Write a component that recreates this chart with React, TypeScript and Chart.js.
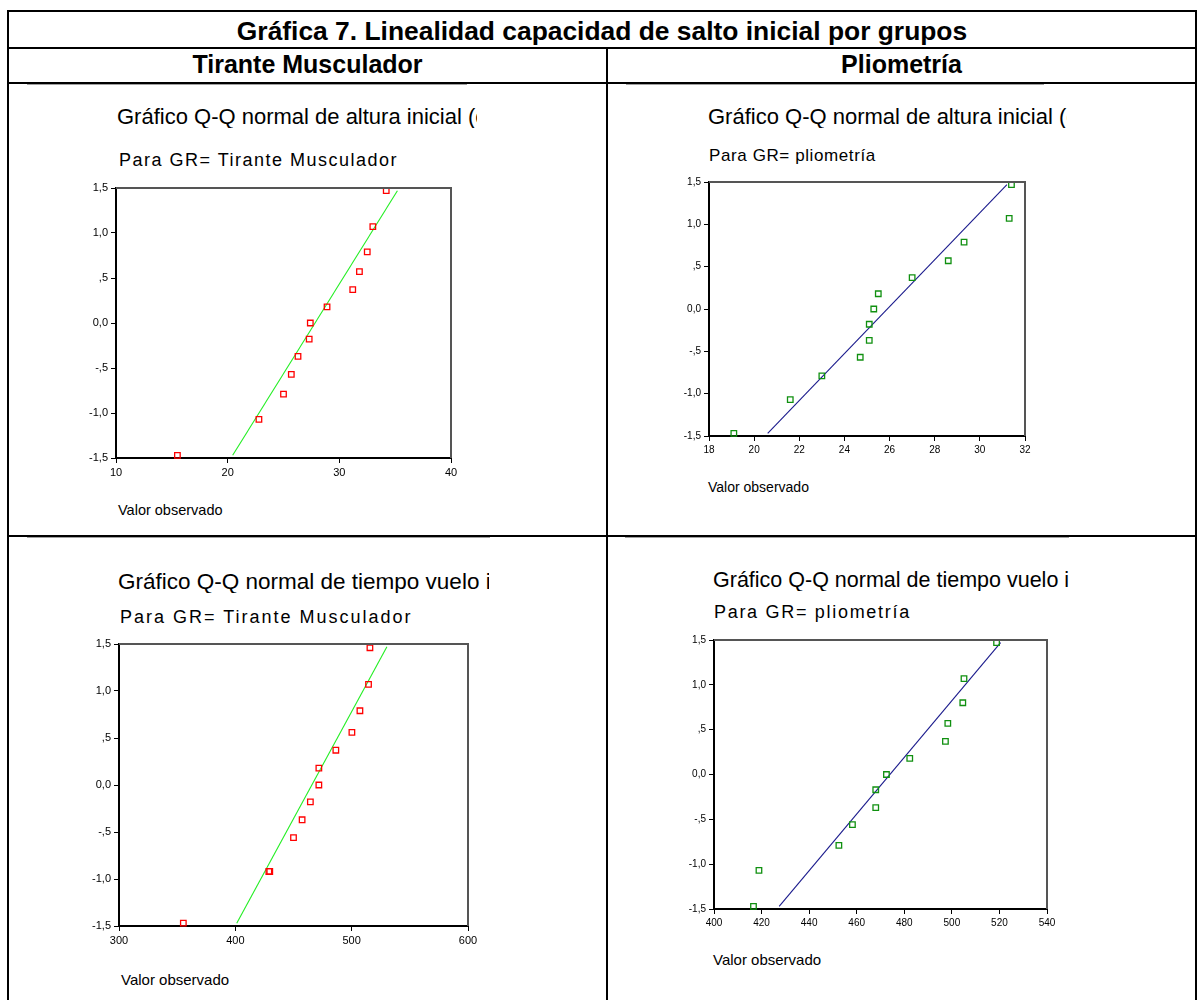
import React, { useEffect, useRef } from "react";
import { Chart, registerables } from "chart.js";

Chart.register(...registerables);

// ---- Data ----
const yTickValues = [-1.5, -1.0, -0.5, 0, 0.5, 1.0, 1.5];
const yTickLabels = ["-1,5", "-1,0", "-,5", "0,0", ",5", "1,0", "1,5"];

// Tirante Musculador - altura inicial
const alturaTiranteX = [15.5, 22.8, 25.0, 25.7, 26.3, 27.3, 27.4, 28.9, 31.2, 31.8, 32.5, 33.0, 34.2];
const alturaTiranteY = [-1.47, -1.07, -0.79, -0.57, -0.37, -0.18, 0.0, 0.18, 0.37, 0.57, 0.79, 1.07, 1.47];
const alturaTiranteLineX = [20.45, 35.2];
const alturaTiranteLineY = [-1.47, 1.47];
const alturaTiranteTicks = [10, 20, 30, 40];
const alturaTiranteTickLabels = ["10", "20", "30", "40"];

// Pliometría - altura inicial
const alturaPlioX = [19.1, 21.6, 23.0, 24.7, 25.1, 25.1, 25.3, 25.5, 27.0, 28.6, 29.3, 31.3, 31.4];
const alturaPlioY = [-1.47, -1.07, -0.79, -0.57, -0.37, -0.18, 0.0, 0.18, 0.37, 0.57, 0.79, 1.07, 1.47];
const alturaPlioLineX = [20.6, 31.2];
const alturaPlioLineY = [-1.47, 1.47];
const alturaPlioTicks = [18, 20, 22, 24, 26, 28, 30, 32];
const alturaPlioTickLabels = ["18", "20", "22", "24", "26", "28", "30", "32"];

// Tirante Musculador - tiempo vuelo inicial
const vueloTiranteX = [355.3, 428.8, 429.6, 450.0, 457.4, 464.5, 471.8, 471.8, 486.4, 500.2, 507.1, 514.5, 515.7];
const vueloTiranteY = [-1.47, -0.92, -0.92, -0.56, -0.37, -0.18, 0.0, 0.18, 0.37, 0.56, 0.79, 1.07, 1.46];
const vueloTiranteLineX = [401.2, 530.3];
const vueloTiranteLineY = [-1.47, 1.47];
const vueloTiranteTicks = [300, 400, 500, 600];
const vueloTiranteTickLabels = ["300", "400", "500", "600"];

// Pliometría - tiempo vuelo inicial
const vueloPlioX = [416.6, 418.9, 452.5, 458.2, 468.0, 468.0, 472.5, 482.3, 497.3, 498.3, 504.6, 505.1, 518.8];
const vueloPlioY = [-1.47, -1.07, -0.79, -0.56, -0.37, -0.17, 0.0, 0.18, 0.37, 0.57, 0.80, 1.07, 1.47];
const vueloPlioLineX = [427.4, 520.5];
const vueloPlioLineY = [-1.47, 1.47];
const vueloPlioTicks = [400, 420, 440, 460, 480, 500, 520, 540];
const vueloPlioTickLabels = ["400", "420", "440", "460", "480", "500", "520", "540"];

const FONT = "'Liberation Sans', Arial, Helvetica, sans-serif";

const framePlugin = {
  id: "qqFrame",
  afterDatasetsDraw(chart: any) {
    const { ctx, chartArea } = chart;
    const { left, top, right, bottom } = chartArea;
    ctx.save();
    ctx.strokeStyle = "#555555";
    ctx.lineWidth = 2;
    ctx.beginPath();
    ctx.moveTo(left, top);
    ctx.lineTo(right, top);
    ctx.lineTo(right, bottom);
    ctx.stroke();
    ctx.restore();
  },
};

type QQProps = {
  L: number; T: number; R: number; B: number;
  xs: number[]; ys: number[]; lx: number[]; ly: number[];
  ticks: number[]; tickLabels: string[];
  pointColor: string; lineColor: string; fontSize: number;
};

function QQChart(p: QQProps) {
  const ref = useRef<HTMLCanvasElement | null>(null);
  const padL = 60, padT = 12, padR = 25, padB = 30;
  const w = p.R - p.L + padL + padR;
  const h = p.B - p.T + padT + padB;
  useEffect(() => {
    if (!ref.current) return;
    const font = { family: FONT, size: p.fontSize };
    const chart = new Chart(ref.current, {
      type: "scatter",
      data: {
        datasets: [
          {
            data: p.lx.map((x, i) => ({ x, y: p.ly[i] })),
            showLine: true,
            borderColor: p.lineColor,
            borderWidth: 1.1,
            pointRadius: 0,
            clip: false,
            order: 2,
          } as any,
          {
            data: p.xs.map((x, i) => ({ x, y: p.ys[i] })),
            pointStyle: "rect",
            pointRadius: 3.9,
            borderColor: p.pointColor,
            backgroundColor: "rgba(255,255,255,0)",
            pointBorderWidth: 1.3,
            borderWidth: 1.3,
            clip: false,
            order: 1,
          } as any,
        ],
      },
      options: {
        responsive: false,
        animation: false,
        devicePixelRatio: 1,
        layout: { padding: { left: 0, top: padT, right: padR, bottom: 0 } },
        plugins: { legend: { display: false }, tooltip: { enabled: false } },
        scales: {
          x: {
            type: "linear",
            min: p.ticks[0],
            max: p.ticks[p.ticks.length - 1],
            afterFit: (s: any) => { s.height = padB; },
            afterBuildTicks: (s: any) => { s.ticks = p.ticks.map((v) => ({ value: v })); },
            ticks: {
              callback: (_v: any, i: number) => p.tickLabels[i],
              font, color: "#000", padding: 3, maxRotation: 0, autoSkip: false,
            },
            grid: { drawOnChartArea: false, drawTicks: true, tickLength: 5, color: "#000", lineWidth: 1 },
            border: { display: true, color: "#000", width: 2 },
          },
          y: {
            type: "linear",
            min: -1.5,
            max: 1.5,
            afterFit: (s: any) => { s.width = padL; },
            afterBuildTicks: (s: any) => { s.ticks = yTickValues.map((v) => ({ value: v })); },
            ticks: {
              callback: (_v: any, i: number) => yTickLabels[i],
              font, color: "#000", padding: 3, autoSkip: false,
            },
            grid: { drawOnChartArea: false, drawTicks: true, tickLength: 5, color: "#000", lineWidth: 1 },
            border: { display: true, color: "#000", width: 2 },
          },
        },
      } as any,
      plugins: [framePlugin],
    });
    return () => chart.destroy();
  }, []);
  return (
    <canvas
      ref={ref}
      width={w}
      height={h}
      style={{ position: "absolute", left: p.L - padL, top: p.T - padT, width: w, height: h }}
    />
  );
}

type TextProps = {
  text: string; left: number; baseline: number; size: number;
  bold?: boolean; ls?: number; clipRight?: number; center?: [number, number];
};

function Txt(t: TextProps) {
  const top = t.baseline - 0.8465 * t.size;
  const style: React.CSSProperties = {
    position: "absolute",
    top,
    fontFamily: FONT,
    fontSize: t.size,
    lineHeight: `${t.size}px`,
    fontWeight: t.bold ? "bold" : "normal",
    letterSpacing: t.ls ? `${t.ls}px` : undefined,
    whiteSpace: "nowrap",
    color: "#000",
  };
  if (t.center) {
    style.left = t.center[0];
    style.width = t.center[1] - t.center[0];
    style.textAlign = "center";
  } else {
    style.left = t.left;
    if (t.clipRight !== undefined) {
      style.width = t.clipRight - t.left;
      style.overflow = "hidden";
    }
  }
  return <div style={style}>{t.text}</div>;
}

function Line(props: { x: number; y: number; w: number; h: number; c?: string }) {
  return (
    <div
      style={{
        position: "absolute", left: props.x, top: props.y, width: props.w, height: props.h,
        background: props.c || "#000",
      }}
    />
  );
}

export default function App() {
  return (
    <div style={{ position: "absolute", left: 0, top: 0, width: 1198, height: 1000, background: "#fff", overflow: "hidden" }}>
      {/* table borders */}
      <Line x={7} y={10} w={1190} h={2} />
      <Line x={7} y={10} w={2} h={990} />
      <Line x={1195} y={10} w={2} h={990} />
      <Line x={7} y={47} w={1190} h={2} />
      <Line x={7} y={82} w={1190} h={2} />
      <Line x={606} y={47} w={2} h={953} />
      <Line x={7} y={535} w={1190} h={2} />
      {/* embedded image top edges */}
      <Line x={27} y={84} w={440} h={1} c="#a0a0a0" />
      <Line x={626} y={84} w={418} h={1} c="#a0a0a0" />
      <Line x={27} y={537} w={463} h={1} c="#a0a0a0" />
      <Line x={625} y={537} w={444} h={1} c="#a0a0a0" />

      <Txt text="Gráfica 7. Linealidad capacidad de salto inicial por grupos" left={0} baseline={40} size={26.4} bold center={[9, 1195]} />
      <Txt text="Tirante Musculador" left={0} baseline={73} size={25} bold center={[9, 606]} />
      <Txt text="Pliometría" left={0} baseline={73} size={25} bold center={[608, 1195]} />

      {/* Plot 1 */}
      <Txt text="Gráfico Q-Q normal de altura inicial (cm)" left={117} baseline={125} size={22} clipRight={477} />
      <Txt text="Para GR= Tirante Musculador" left={119} baseline={166} size={18} ls={1.5} />
      <QQChart L={116} T={188} R={451} B={458} xs={alturaTiranteX} ys={alturaTiranteY}
        lx={alturaTiranteLineX} ly={alturaTiranteLineY} ticks={alturaTiranteTicks} tickLabels={alturaTiranteTickLabels}
        pointColor="#ff0000" lineColor="#22ee22" fontSize={11} />
      <Txt text="Valor observado" left={118} baseline={515} size={14.5} />

      {/* Plot 2 */}
      <Txt text="Gráfico Q-Q normal de altura inicial (cm)" left={708} baseline={125} size={22} clipRight={1067} />
      <Txt text="Para GR= pliometría" left={709} baseline={161} size={17} ls={0.6} />
      <QQChart L={709} T={182} R={1025} B={436} xs={alturaPlioX} ys={alturaPlioY}
        lx={alturaPlioLineX} ly={alturaPlioLineY} ticks={alturaPlioTicks} tickLabels={alturaPlioTickLabels}
        pointColor="#109010" lineColor="#1a1a8c" fontSize={10} />
      <Txt text="Valor observado" left={708} baseline={492} size={14} />

      {/* Plot 3 */}
      <Txt text="Gráfico Q-Q normal de tiempo vuelo inicial" left={118} baseline={590} size={22.5} clipRight={489} />
      <Txt text="Para GR= Tirante Musculador" left={120} baseline={623} size={18} ls={2} />
      <QQChart L={119} T={644} R={468} B={926} xs={vueloTiranteX} ys={vueloTiranteY}
        lx={vueloTiranteLineX} ly={vueloTiranteLineY} ticks={vueloTiranteTicks} tickLabels={vueloTiranteTickLabels}
        pointColor="#ff0000" lineColor="#22ee22" fontSize={11} />
      <Txt text="Valor observado" left={121} baseline={985} size={15} />

      {/* Plot 4 */}
      <Txt text="Gráfico Q-Q normal de tiempo vuelo inicial" left={713} baseline={588} size={21.5} clipRight={1069} />
      <Txt text="Para GR= pliometría" left={714} baseline={618} size={18} ls={1.7} />
      <QQChart L={714} T={640} R={1047} B={909} xs={vueloPlioX} ys={vueloPlioY}
        lx={vueloPlioLineX} ly={vueloPlioLineY} ticks={vueloPlioTicks} tickLabels={vueloPlioTickLabels}
        pointColor="#109010" lineColor="#1a1a8c" fontSize={10} />
      <Txt text="Valor observado" left={713} baseline={965} size={15} />
    </div>
  );
}
